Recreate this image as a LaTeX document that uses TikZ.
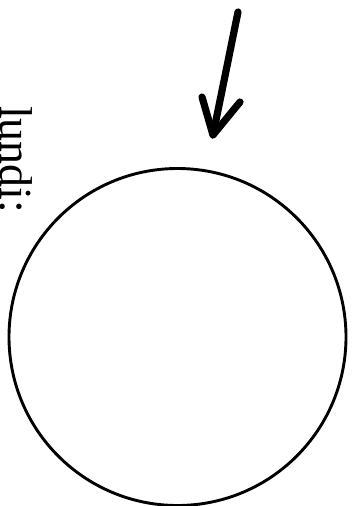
\documentclass[tikz,border=0pt]{standalone}
\usepackage{fontspec}
\setmainfont{Liberation Serif}
\begin{document}
\begin{tikzpicture}[x=1pt,y=1pt,
  ring/.style={circle,draw=black,line width=2.9pt,inner sep=0pt,minimum size=337pt},
  pen/.style={draw=black,line width=7.2pt,line cap=round,line join=round},
  lbl/.style={font=\fontsize{46}{46}\selectfont,rotate=-90,anchor=base west,inner sep=0pt}]
\useasboundingbox (0,0) rectangle (357,-506);
\node[ring] (c) at (177.5,-337) {};
\node[lbl] (t) at (1,-106) {lundi:};
\coordinate (s) at (238,-12);
\coordinate (tip) at (213,-135);
\coordinate (bl) at (202,-97);
\coordinate (br) at (240,-102);
\draw[pen] (s) -- (tip);
\draw[pen] (bl) -- (tip) -- (br);
\end{tikzpicture}
\end{document}
